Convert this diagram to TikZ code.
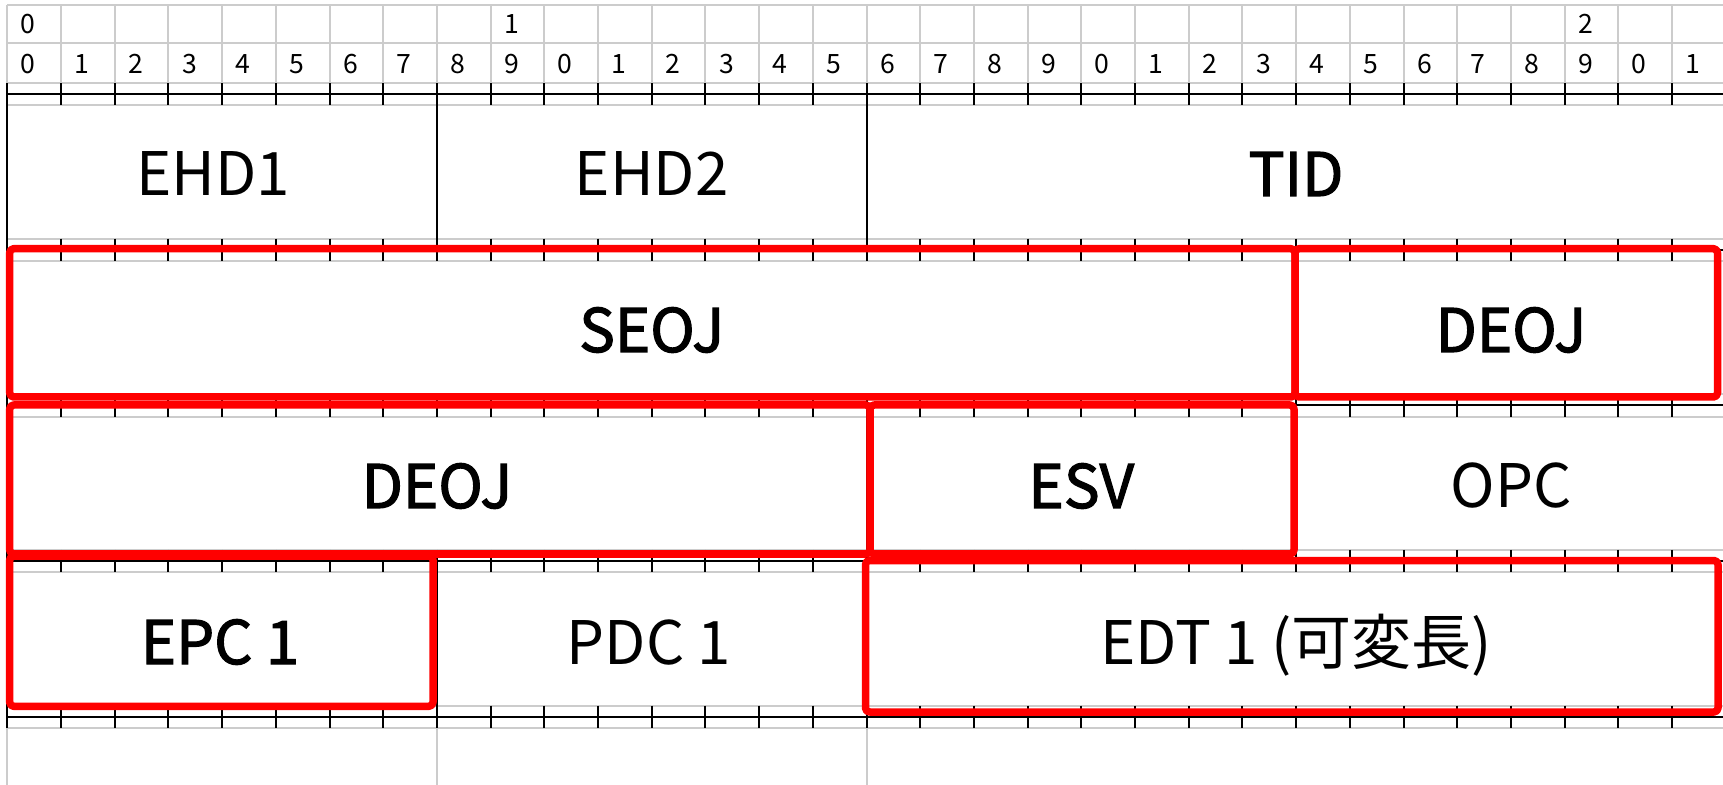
\documentclass[tikz,border=0pt]{standalone}
\usepackage{fontspec}
\setmainfont{Noto Sans CJK JP}
\newcommand\medtxt[1]{\special{pdf:literal direct 2 Tr 0.6 w}#1\special{pdf:literal direct 0 Tr}}
\begin{document}
\begin{tikzpicture}[x=0.5pt,y=-0.5pt,
  gridline/.style={draw=gray!40, line width=1pt},
  blackline/.style={draw=black, line width=1pt},
  redbox/.style={draw=red, line width=3.75pt, line join=round, rounded corners=2pt},
  lbl/.style={anchor=base, inner sep=0pt, font=\fontsize{30}{36}\selectfont},
  dig/.style={anchor=base, inner sep=0pt, font=\fontsize{13.3}{16}\selectfont}]
\fill[white] (0,0) rectangle (1723,785);
\useasboundingbox (0,0) rectangle (1723,785);
% top ruler grid
\foreach \i in {0,...,32} \draw[gridline] ({7.3+\i*53.7},5) -- ({7.3+\i*53.7},82.7);
\foreach \y in {5,43.3} \draw[gridline] (7.3,\y) -- (1730,\y);
% ruler digits
\node[dig] (t0) at ({7.3+0*53.7+21},33.3) {0};
\node[dig] (t9) at ({7.3+9*53.7+21},33.3) {1};
\node[dig] (t29) at ({7.3+29*53.7+21},33.3) {2};
\foreach \i in {0,...,31}{
  \pgfmathtruncatemacro{\d}{mod(\i,10)}
  \node[dig] (d\i) at ({7.3+\i*53.7+21},73.3) {\d};
}
% bottom gray verticals
\foreach \i in {0,8,16} \draw[gridline] ({7.3+\i*53.7},727.9) -- ({7.3+\i*53.7},790);
% tick bands
\foreach \b in {94.3,249.9,405.5,561.1,716.7}{
  \draw[gridline] (7.3,{\b-11.2}) -- (1730,{\b-11.2});
  \draw[gridline] (7.3,{\b+11.2}) -- (1730,{\b+11.2});
  \draw[blackline] (7.3,\b) -- (1730,\b);
  \foreach \i in {0,...,32} \draw[blackline] ({7.3+\i*53.7},{\b-11.2}) -- ({7.3+\i*53.7},{\b+11.2});
}
% row separators
\foreach \i in {0,8,16} \draw[blackline] ({7.3+\i*53.7},94.3) -- ({7.3+\i*53.7},249.9);
\foreach \i in {0,24} \draw[blackline] ({7.3+\i*53.7},249.9) -- ({7.3+\i*53.7},405.5);
\foreach \i in {0,16,24} \draw[blackline] ({7.3+\i*53.7},405.5) -- ({7.3+\i*53.7},561.1);
\foreach \i in {0,8,16} \draw[blackline] ({7.3+\i*53.7},561.1) -- ({7.3+\i*53.7},716.7);
% labels
\node[lbl] (ehd1) at (213,196) {EHD1};
\node[lbl] (ehd2) at (651.6,196) {EHD2};
\node[lbl] (tid)  at (1296,196) {\medtxt{TID}};
\node[lbl] (seoj) at (651.7,352) {\medtxt{SEOJ}};
\node[lbl] (deojA) at (1510.9,352) {\medtxt{DEOJ}};
\node[lbl] (deojB) at (437,508) {\medtxt{DEOJ}};
\node[lbl] (esv) at (1081.3,508) {\medtxt{ESV}};
\node[lbl] (opc) at (1510.9,508) {OPC};
\node[lbl] (epc) at (220,664) {\medtxt{EPC 1}};
\node[lbl] (pdc) at (649,664) {PDC 1};
\node[lbl] (edt) at (1296,664) {EDT 1 (可変長)};
% red highlight boxes
\draw[redbox] (9.7,248.7) rectangle (1295,397);
\draw[redbox] (1295,248.7) rectangle (1717.5,397);
\draw[redbox] (9.7,405) rectangle (870,554);
\draw[redbox] (870,405) rectangle (1294,554);
\draw[redbox] (9.7,556) rectangle (433,706.3);
\draw[redbox] (865.5,560.5) rectangle (1718,712);
\end{tikzpicture}
\end{document}
